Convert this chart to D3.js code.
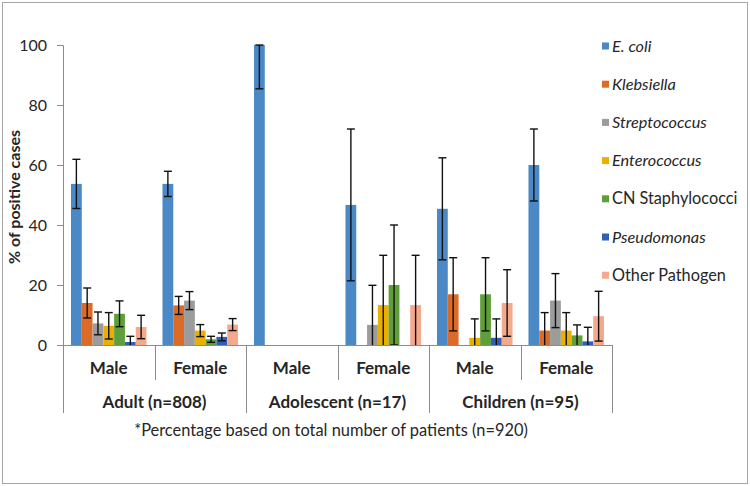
<!DOCTYPE html>
<html>
<head>
<meta charset="utf-8">
<script src="https://cdn.jsdelivr.net/npm/d3@7"></script>
<style>
  body { margin: 0; background: #fff; }
  svg { display: block; font-family: Lato, "Open Sans", sans-serif; }
</style>
</head>
<body>
<svg id="chart" width="750" height="486"></svg>
<script>
// ---- data ----
const groups = ["Adult (n=808)", "Adolescent (n=17)", "Children (n=95)"];
const sexes = ["Male", "Female"];
const seriesNames = ["E. coli", "Klebsiella", "Streptococcus", "Enterococcus", "CN Staphylococci", "Pseudomonas", "Other Pathogen"];
const italicSeries = [true, true, true, true, false, true, false];
const seriesColors = ["#4a88c6", "#dc6b28", "#9c9c9c", "#e9b000", "#5f9e3b", "#2f5fb7", "#f4a88c"];
// order of categories: Adult M, Adult F, Adolescent M, Adolescent F, Children M, Children F
const ecoli       = [53.7, 53.7, 100, 46.7, 45.4, 60.0];
const ecoliErr    = [8.2, 4.2, 14.6, 25.3, 17.0, 12.0];
const klebsiella  = [14.0, 13.2, 0, 0, 16.9, 4.8];
const klebErr     = [5.0, 3.0, 0, 0, 12.2, 6.0];
const strepto     = [7.2, 14.8, 0, 6.7, 0, 14.8];
const strepErr    = [3.8, 3.0, 0, 13.2, 0, 9.0];
const entero      = [6.4, 4.8, 0, 13.3, 2.4, 4.8];
const enteroErr   = [4.4, 2.0, 0, 16.6, 6.3, 6.0];
const cnStaph     = [10.4, 1.9, 0, 20.0, 16.9, 3.2];
const cnErr       = [4.3, 1.0, 0, 20.0, 12.2, 3.5];
const pseudo      = [1.0, 2.7, 0, 0, 2.4, 1.2];
const pseudoErr   = [1.9, 1.3, 0, 0, 6.3, 4.7];
const other       = [6.0, 6.8, 0, 13.3, 14.0, 9.6];
const otherErr    = [3.9, 2.0, 0, 16.6, 11.1, 8.3];
const yTicks = [0, 20, 40, 60, 80, 100];
const yTitle = "% of positive cases";
const footnote = "*Percentage based on total number of patients (n=920)";

const seriesValues = [ecoli, klebsiella, strepto, entero, cnStaph, pseudo, other];
const seriesErrors = [ecoliErr, klebErr, strepErr, enteroErr, cnErr, pseudoErr, otherErr];

// ---- layout ----
const svg = d3.select("#chart");
const plotL = 63, plotR = 612, plotT = 45, plotB = 345;
const axisColor = "#8c8c8c";
const textColor = "#262626";

svg.append("rect").attr("x", 2.5).attr("y", 2.5).attr("width", 745).attr("height", 481)
  .attr("fill", "#fff").attr("stroke", "#a6a6a6").attr("stroke-width", 1);

const cats = [];
groups.forEach((g, gi) => sexes.forEach((s, si) => cats.push(gi * 2 + si)));

const x = d3.scaleBand().domain(cats).range([plotL, plotR]).paddingInner(0).paddingOuter(0);
const xSub = d3.scaleBand().domain(d3.range(seriesNames.length)).range([0, x.bandwidth()]).paddingInner(0).paddingOuter(0.74);
const y = d3.scaleLinear().domain([0, 100]).range([plotB, plotT]);

// y axis
const yAxis = d3.axisLeft(y).tickValues(yTicks).tickSize(6).tickPadding(10).tickFormat(d3.format("d"));
const yg = svg.append("g").attr("transform", `translate(${plotL},0)`).call(yAxis);
yg.select(".domain").attr("stroke", axisColor);
yg.selectAll(".tick line").attr("stroke", axisColor);
yg.selectAll(".tick text").attr("fill", textColor).style("font-size", "16px").style("font-family", "Lato, sans-serif");

svg.append("text")
  .attr("transform", `translate(20,${(plotT + plotB) / 2 + 2}) rotate(-90)`)
  .attr("text-anchor", "middle")
  .attr("font-weight", "bold").attr("font-size", 16).attr("fill", textColor)
  .text(yTitle);

// bars
const barData = [];
seriesValues.forEach((vals, si) => vals.forEach((v, ci) => barData.push({ si, ci, v, e: seriesErrors[si][ci] })));

svg.append("g").selectAll("rect").data(barData.filter(d => d.v > 0)).join("rect")
  .attr("x", d => x(d.ci) + xSub(d.si))
  .attr("width", xSub.bandwidth())
  .attr("y", d => y(d.v))
  .attr("height", d => y(0) - y(d.v))
  .attr("fill", d => seriesColors[d.si]);

// error bars
const eg = svg.append("g").attr("stroke", "#111").attr("stroke-width", 1.4);
barData.filter(d => d.v > 0 && d.e > 0).forEach(d => {
  const cx = x(d.ci) + xSub(d.si) + xSub.bandwidth() / 2;
  const hiV = Math.min(100, d.v + d.e);
  const loV = d.v - d.e;
  const lo = Math.max(0, loV);
  eg.append("line").attr("x1", cx).attr("x2", cx).attr("y1", y(hiV)).attr("y2", y(lo));
  eg.append("line").attr("x1", cx - 4).attr("x2", cx + 4).attr("y1", y(hiV)).attr("y2", y(hiV));
  if (loV >= 0) eg.append("line").attr("x1", cx - 4).attr("x2", cx + 4).attr("y1", y(lo)).attr("y2", y(lo));
});

// x axis (multi-level)
const xg = svg.append("g").attr("stroke", axisColor).attr("stroke-width", 1);
xg.append("line").attr("x1", plotL).attr("x2", plotR).attr("y1", plotB + 0.5).attr("y2", plotB + 0.5);
cats.forEach(ci => {
  const isGroupEdge = ci % 2 === 0;
  const xe = Math.round(x(ci)) + 0.5;
  xg.append("line").attr("x1", xe).attr("x2", xe).attr("y1", plotB).attr("y2", isGroupEdge ? 413 : 380);
});
xg.append("line").attr("x1", plotR + 0.5).attr("x2", plotR + 0.5).attr("y1", plotB).attr("y2", 413);

svg.append("g").selectAll("text").data(cats).join("text")
  .attr("x", d => x(d) + x.bandwidth() / 2)
  .attr("y", 374)
  .attr("text-anchor", "middle").attr("font-weight", "bold").attr("font-size", 17).attr("fill", textColor)
  .text(d => sexes[d % 2]);

svg.append("g").selectAll("text").data(groups).join("text")
  .attr("x", (d, i) => x(i * 2) + x.bandwidth())
  .attr("y", 408)
  .attr("text-anchor", "middle").attr("font-weight", "bold").attr("font-size", 17).attr("fill", textColor)
  .text(d => d);

svg.append("text").attr("x", 331).attr("y", 436).attr("text-anchor", "middle")
  .attr("font-size", 16.4).attr("fill", textColor).text(footnote);

// legend
const lg = svg.append("g");
seriesNames.forEach((name, i) => {
  const cy = 46 + i * 38.2;
  lg.append("rect").attr("x", 602).attr("y", cy - 3.5).attr("width", 7).attr("height", 7).attr("fill", seriesColors[i]);
  lg.append("text").attr("x", 612).attr("y", cy + 5.5).attr("font-size", 16.3).attr("fill", textColor)
    .attr("font-style", italicSeries[i] ? "italic" : "normal").text(name);
});
</script>
</body>
</html>
